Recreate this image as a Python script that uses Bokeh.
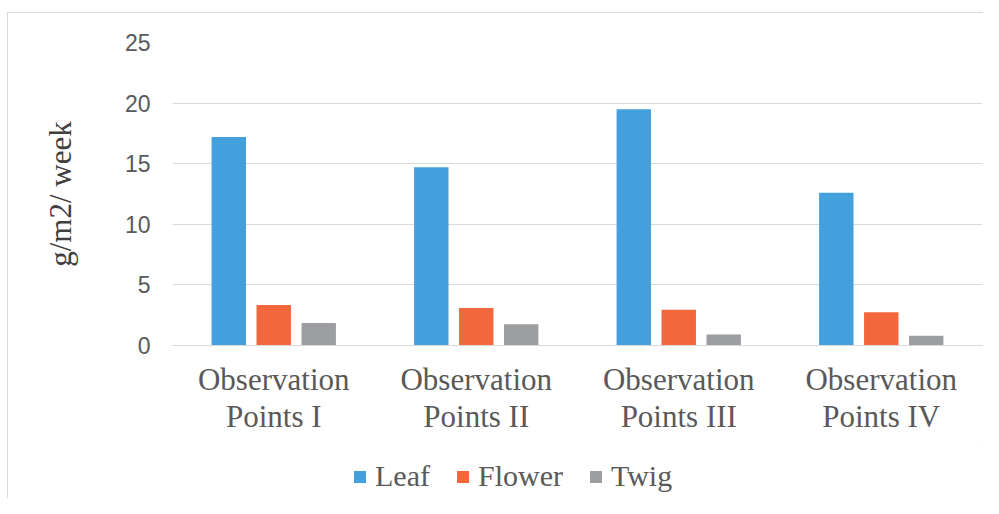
from bokeh.plotting import figure
from bokeh.layouts import column
from bokeh.models import Legend, LegendItem, Range1d, FactorRange
from bokeh.transform import dodge
from bokeh.embed import file_html
from bokeh.resources import INLINE

categories = ["Observation\nPoints I", "Observation\nPoints II", "Observation\nPoints III", "Observation\nPoints IV"]
series = ["Leaf", "Flower", "Twig"]
leaf = [17.2, 14.7, 19.5, 12.6]
flower = [3.35, 3.1, 2.95, 2.75]
twig = [1.85, 1.75, 0.9, 0.8]
y_ticks = [0, 5, 10, 15, 20, 25]
colors = ["#449FDD", "#F3673C", "#9D9EA1"]

data = dict(cat=categories, Leaf=leaf, Flower=flower, Twig=twig)

p = figure(x_range=FactorRange(*categories), y_range=Range1d(0, 25),
           width=975, height=427, output_backend="svg", toolbar_location=None,
           min_border_left=164, min_border_right=1, min_border_top=29, min_border_bottom=95)
p.outline_line_color = None

offsets = [-0.222, 0.0, 0.222]
for s, off, c in zip(series, offsets, colors):
    p.vbar(x=dodge("cat", off, range=p.x_range), top=s, width=0.17, source=data,
           fill_color=c, line_color=None)

p.yaxis.ticker = y_ticks
p.yaxis.axis_line_color = None
p.yaxis.major_tick_line_color = None
p.yaxis.minor_tick_line_color = None
p.yaxis.major_tick_out = 0
p.yaxis.major_label_standoff = 22
p.yaxis.major_label_text_font = "Liberation Sans"
p.yaxis.major_label_text_font_size = "23px"
p.yaxis.major_label_text_color = "#595959"
p.yaxis.axis_label = "g/m2/ week"
p.yaxis.axis_label_text_font = "Liberation Serif"
p.yaxis.axis_label_text_font_size = "31px"
p.yaxis.axis_label_text_font_style = "normal"
p.yaxis.axis_label_text_color = "#404040"
p.yaxis.axis_label_standoff = 44

p.xaxis.axis_line_color = "#D9D9D9"
p.xaxis.major_tick_line_color = None
p.xaxis.major_tick_out = 0
p.xaxis.major_label_standoff = 16
p.xaxis.major_label_text_font = "Liberation Serif"
p.xaxis.major_label_text_font_size = "31px"
p.xaxis.major_label_text_color = "#595959"
p.xaxis.major_label_text_line_height = 1.07

p.xgrid.grid_line_color = None
p.ygrid.grid_line_color = "#D9D9D9"
p.ygrid.grid_line_width = 1

# legend strip below the chart (its frame is aligned with the chart's frame)
lg = figure(width=975, height=58, output_backend="svg", toolbar_location=None,
            x_range=Range1d(0, 1), y_range=Range1d(0, 1),
            x_axis_location=None, y_axis_location=None,
            min_border_left=0, min_border_right=0, min_border_top=0, min_border_bottom=0)
lg.outline_line_color = None
lg.grid.grid_line_color = None
legend_renderers = []
for s, c in zip(series, colors):
    # off-range sample so only the legend swatch is visible
    r = lg.vbar(x=[5], top=[6], bottom=[5], width=0.1, fill_color=c, line_color=None)
    legend_renderers.append(r)

legend = Legend(items=[LegendItem(label=s, renderers=[r]) for s, r in zip(series, legend_renderers)],
                orientation="horizontal", location=(180, 5),
                glyph_width=15, glyph_height=15, label_standoff=8, spacing=25,
                padding=0, margin=0, border_line_color=None, background_fill_alpha=0,
                label_text_font="Liberation Serif", label_text_font_size="30px",
                label_text_color="#595959")
lg.add_layout(legend, "center")

layout = column(p, lg, spacing=0, margin=(12, 0, 0, 7),
                styles={"border-top": "1px solid #D9D9D9", "border-left": "1px solid #D9D9D9"})
open("out.html", "w").write(file_html(layout, INLINE))
